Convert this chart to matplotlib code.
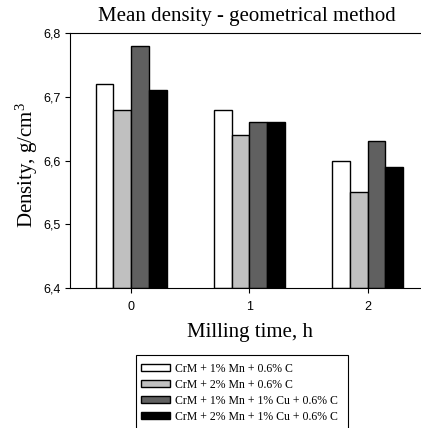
import matplotlib
matplotlib.use("Agg")
import matplotlib.pyplot as plt
from matplotlib.patches import Rectangle
import numpy as np

plt.rcParams["mathtext.fontset"] = "custom"
plt.rcParams["mathtext.rm"] = "Liberation Serif"
plt.rcParams["mathtext.it"] = "Liberation Serif"

categories = ["0", "1", "2"]
series_names = ["CrM + 1% Mn + 0.6% C", "CrM + 2% Mn + 0.6% C",
                "CrM + 1% Mn + 1% Cu + 0.6% C", "CrM + 2% Mn + 1% Cu + 0.6% C"]
s1 = [6.72, 6.68, 6.60]
s2 = [6.68, 6.64, 6.55]
s3 = [6.78, 6.66, 6.63]
s4 = [6.71, 6.66, 6.59]
yticks = [6.4, 6.5, 6.6, 6.7, 6.8]
ytick_labels = ["6,4", "6,5", "6,6", "6,7", "6,8"]
colors = ["#FFFFFF", "#C0C0C0", "#606060", "#000000"]

W, H = 421, 428
fig = plt.figure(figsize=(W/100, H/100), dpi=100)
ax = fig.add_axes([70/W, 1-288/H, (421-70)/W, (288-33)/H])

x = np.arange(len(categories))
bw = 0.15
base = 6.4
for i, (vals, c, name) in enumerate(zip([s1, s2, s3, s4], colors, series_names)):
    ax.bar(x + (i-1.5)*bw, np.array(vals)-base, bottom=base, width=bw, color=c,
           edgecolor="black", linewidth=1.0, label=name)

ax.set_xlim(-0.516, 2.45)
ax.set_ylim(6.4, 6.8)
ax.set_xticks(x)
ax.set_xticklabels(categories, fontfamily="Liberation Sans", fontsize=9)
ax.set_yticks(yticks)
ax.set_yticklabels(ytick_labels, fontfamily="Liberation Sans", fontsize=9)
ax.tick_params(direction="out", length=3.5, width=0.8)
ax.tick_params(axis="x", pad=6)
ax.tick_params(axis="y", pad=3)
ax.spines["right"].set_visible(False)
for s in ["left", "bottom", "top"]:
    ax.spines[s].set_linewidth(0.8)

fig.text(247/W, 1-17/H, "Mean density - geometrical method", ha="center", va="center",
         fontfamily="Liberation Serif", fontsize=15)
fig.text(27/W, 1-165/H, "Density, g/cm$^{\\mathrm{3}}$", ha="center", va="center", rotation=90,
         fontfamily="Liberation Serif", fontsize=15)
fig.text(250/W, 1-333/H, "Milling time, h", ha="center", va="center",
         fontfamily="Liberation Serif", fontsize=15)

fig.add_artist(Rectangle((136/W, -0.05), (348-136)/W, (428-355)/H + 0.05,
                         transform=fig.transFigure, facecolor="white",
                         edgecolor="black", linewidth=0.8, clip_on=False))

handles, labels = ax.get_legend_handles_labels()
leg = fig.legend(handles, labels, loc="upper left", bbox_to_anchor=(141/W, 1-363/H),
                 prop={"family": "Liberation Serif", "size": 8.5}, frameon=False,
                 handlelength=2.45, handleheight=0.55,
                 labelspacing=0.33, borderpad=0.0, handletextpad=0.42, borderaxespad=0)

fig.savefig("out.png", dpi=100)
